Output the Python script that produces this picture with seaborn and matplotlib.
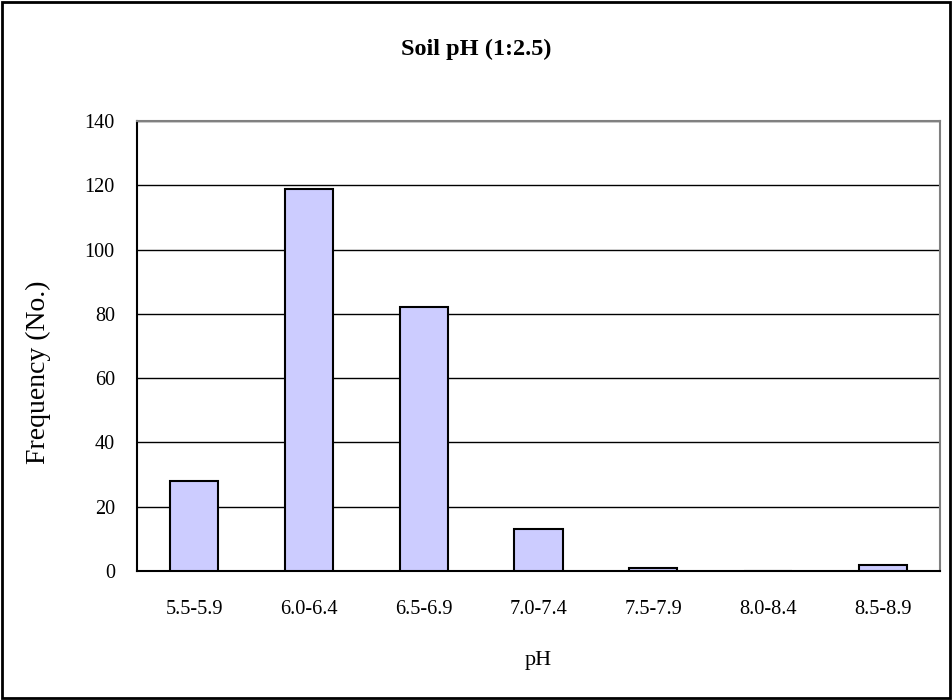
import matplotlib
matplotlib.use("Agg")
import matplotlib.pyplot as plt
import seaborn as sns
import pandas as pd
from matplotlib.patches import Rectangle

# pH classes and sample counts
ph_classes = ["5.5-5.9", "6.0-6.4", "6.5-6.9", "7.0-7.4", "7.5-7.9", "8.0-8.4", "8.5-8.9"]
frequency = [28, 119, 82, 13, 1, 0, 2]
y_ticks = [0, 20, 40, 60, 80, 100, 120, 140]

df = pd.DataFrame({"pH": ph_classes, "Frequency": frequency})

sns.set_theme(style="white")
plt.rcParams["font.family"] = ["Liberation Serif", "DejaVu Serif"]

fig = plt.figure(figsize=(9.52, 7.0), dpi=100)
ax = fig.add_axes([0.1439, 0.1843, 0.8435, 0.6428])

sns.barplot(data=df, x="pH", y="Frequency", ax=ax, width=0.42,
            color="#CCCCFF", saturation=1, edgecolor="black", linewidth=1.5,
            zorder=3)

ax.set_ylim(0, 140)
ax.set_xlim(-0.5, len(ph_classes) - 0.5)
ax.set_yticks(y_ticks)
ax.set_yticklabels([str(v) for v in y_ticks], fontsize=14.5, color="black")
ax.yaxis.grid(True, color="black", linewidth=1.0, zorder=0)
ax.xaxis.grid(False)
ax.set_axisbelow(True)

# category boundary ticks, labels at centers
ax.set_xticks([i - 0.5 for i in range(len(ph_classes) + 1)])
ax.set_xticklabels([])
ax.set_xticks(range(len(ph_classes)), minor=True)
ax.set_xticklabels(ph_classes, minor=True, fontsize=14.7, color="black")
ax.tick_params(axis="x", which="major", direction="in", length=6, width=1, color="black")
ax.tick_params(axis="x", which="minor", length=0, pad=21)
ax.tick_params(axis="y", direction="in", length=6, width=1, color="black", pad=16)

ax.set_xlabel("")
ax.set_ylabel("")

for side in ["left", "bottom"]:
    ax.spines[side].set_color("black")
    ax.spines[side].set_linewidth(1.5)
for side in ["top", "right"]:
    ax.spines[side].set_visible(True)
    ax.spines[side].set_color("#808080")
    ax.spines[side].set_linewidth(1.5)

fig.text(0.5, 1 - 49 / 700, "Soil pH (1:2.5)", ha="center", va="center",
         fontsize=17.5, fontweight="bold", color="black")
fig.text(538 / 952, 1 - 660 / 700, "pH", ha="center", va="center",
         fontsize=16, color="black")
fig.text(38 / 952, 1 - 372 / 700, "Frequency (No.)", ha="center", va="center",
         rotation=90, fontsize=20, color="black")

# outer chart frame
fig.patches.append(Rectangle((0.002, 0.003), 0.996, 0.994, transform=fig.transFigure,
                             fill=False, edgecolor="black", linewidth=2))

fig.savefig("out.png", dpi=100)
